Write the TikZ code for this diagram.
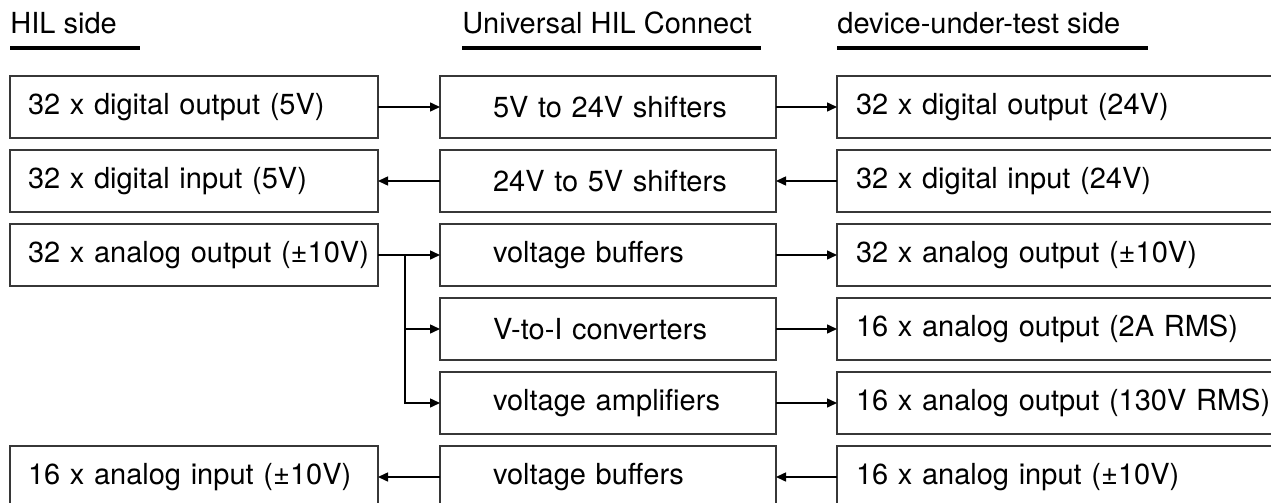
\documentclass[tikz,border=0pt]{standalone}
\usepackage{fontspec}
\setmainfont{TeX Gyre Heros}
\usetikzlibrary{positioning,arrows.meta,calc}
\definecolor{BoxLine}{RGB}{55,55,55}

\begin{document}
\begin{tikzpicture}[
    basebox/.style={rectangle, draw=BoxLine, line width=1pt, outer sep=0pt,
        minimum height=31pt, align=left, font=\fontsize{14.5}{17}\selectfont},
    hilbox/.style={basebox, minimum width=184pt, text width=175pt, inner xsep=4.5pt,
        execute at begin node={\hspace*{4.5pt}}},
    midbox/.style={basebox, minimum width=168pt, text width=131pt, inner xsep=18.5pt,
        execute at begin node={\hspace*{8pt}}},
    dutbox/.style={basebox, minimum width=230pt, text width=229pt, inner xsep=0.5pt,
        execute at begin node={\hspace*{9pt}}},
    head/.style={inner sep=0pt, anchor=base west, font=\fontsize{14.5}{17}\selectfont},
    uline/.style={line width=1.8pt},
    arr/.style={-{Triangle[length=5pt, width=4.5pt]}, line width=0.75pt},
]
\useasboundingbox (0,0) rectangle (635.5pt,-251.5pt);

% column headers
\node[head] (hh) at (5pt,-16.5pt) {HIL side};
\node[head] (hu) at (231pt,-16.5pt) {Universal HIL Connect};
\node[head] (hd) at (418.5pt,-16.5pt) {device-under-test side};
\draw[uline] ($(hh.base west)+(0,-7.5pt)$) -- ++(65pt,0);
\draw[uline] ($(hu.base west)+(0,-7.5pt)$) -- ++(149.5pt,0);
\draw[uline] ($(hd.base west)+(0,-7.5pt)$) -- ++(155.5pt,0);

% middle column
\node[hilbox] (l1) at (97pt,-53.5pt) {32 x digital output (5V)};
\node[midbox, right=31pt of l1] (m1) {5V to 24V shifters};
\node[midbox, below=6pt of m1] (m2) {24V to 5V shifters};
\node[midbox, below=6pt of m2] (m3) {voltage buffers};
\node[midbox, below=6pt of m3] (m4) {V-to-I converters};
\node[midbox, below=6pt of m4] (m5) {voltage amplifiers};
\node[midbox, below=6pt of m5] (m6) {voltage buffers};

% HIL side
\node[hilbox, left=31pt of m2] (l2) {32 x digital input (5V)};
\node[hilbox, left=31pt of m3] (l3) {32 x analog output (±10V)};
\node[hilbox, left=31pt of m6] (l6) {16 x analog input (±10V)};

% device-under-test side
\node[dutbox, right=30.5pt of m1] (r1) {32 x digital output (24V)};
\node[dutbox, right=30.5pt of m2] (r2) {32 x digital input (24V)};
\node[dutbox, right=30.5pt of m3] (r3) {32 x analog output (±10V)};
\node[dutbox, right=30.5pt of m4] (r4) {16 x analog output (2A RMS)};
\node[dutbox, right=30.5pt of m5] (r5) {16 x analog output (130V RMS)};
\node[dutbox, right=30.5pt of m6] (r6) {16 x analog input (±10V)};

\draw[arr] (l1) -- (m1);
\draw[arr] (m1) -- (r1);
\draw[arr] (r2) -- (m2);
\draw[arr] (m2) -- (l2);
\draw[arr] (l3) -- (m3);
\coordinate (br) at ($(l3.east)!0.435!(m3.west)$);
\draw[arr] (br) |- (m4.west);
\draw[arr] (br) |- (m5.west);
\draw[arr] (m3) -- (r3);
\draw[arr] (m4) -- (r4);
\draw[arr] (m5) -- (r5);
\draw[arr] (r6) -- (m6);
\draw[arr] (m6) -- (l6);
\end{tikzpicture}
\end{document}
